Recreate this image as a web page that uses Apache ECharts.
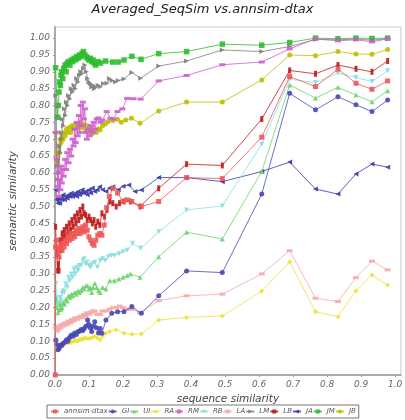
<!DOCTYPE html>
<html><head><meta charset="utf-8">
<script src="https://cdn.jsdelivr.net/npm/echarts@6/dist/echarts.min.js"></script>
<style>html,body{margin:0;padding:0;background:#fff}#c{width:405px;height:420px}</style>
</head><body><div id="c"></div>
<script>
// shared x positions of the sparse (right-hand) part
const sparseX = [0.305, 0.387, 0.492, 0.608, 0.690, 0.766, 0.832, 0.885, 0.932, 0.978];

const annsimDense = [[0.001,0.0],[0.002,0.38],[0.005,0.40],[0.008,0.36],[0.01,0.38],[0.012,0.35],[0.015,0.37],[0.018,0.39],[0.021,0.37],[0.024,0.39],[0.027,0.38],[0.03,0.40],[0.034,0.39],[0.038,0.41],[0.042,0.40],[0.046,0.42],[0.05,0.405],[0.054,0.42],[0.058,0.41],[0.062,0.43],[0.066,0.42],[0.07,0.435],[0.074,0.42],[0.078,0.43],[0.082,0.44],[0.086,0.425],[0.09,0.445],[0.095,0.43],[0.1,0.41],[0.105,0.40],[0.11,0.39],[0.115,0.385],[0.12,0.40],[0.126,0.415],[0.132,0.42],[0.138,0.415],[0.145,0.445],[0.152,0.497],[0.16,0.53],[0.17,0.554],[0.184,0.54],[0.2,0.515],[0.212,0.52],[0.226,0.515],[0.254,0.50]];
const annsimSparse = [0.515,0.586,0.583,0.706,0.886,0.856,0.908,0.866,0.848,0.873];

const giDense = [[0.003,0.104],[0.006,0.09],[0.009,0.075],[0.012,0.079],[0.015,0.085],[0.018,0.09],[0.021,0.088],[0.025,0.095],[0.03,0.098],[0.034,0.105],[0.038,0.10],[0.042,0.11],[0.046,0.115],[0.049,0.119],[0.054,0.115],[0.058,0.125],[0.063,0.12],[0.068,0.129],[0.072,0.13],[0.077,0.135],[0.082,0.132],[0.086,0.138],[0.091,0.145],[0.096,0.163],[0.1,0.15],[0.104,0.14],[0.108,0.129],[0.112,0.145],[0.117,0.158],[0.122,0.14],[0.128,0.125],[0.133,0.138],[0.138,0.124],[0.15,0.163],[0.167,0.183],[0.184,0.188],[0.203,0.188],[0.226,0.203],[0.254,0.183]];
const giSparse = [0.235,0.309,0.304,0.537,0.836,0.787,0.826,0.802,0.782,0.816];

const uiDense = [[0.003,0.228],[0.006,0.20],[0.009,0.185],[0.012,0.193],[0.015,0.21],[0.018,0.195],[0.021,0.20],[0.024,0.215],[0.028,0.21],[0.032,0.225],[0.036,0.22],[0.04,0.235],[0.044,0.23],[0.048,0.24],[0.052,0.235],[0.058,0.245],[0.063,0.24],[0.068,0.25],[0.072,0.245],[0.077,0.25],[0.082,0.26],[0.086,0.255],[0.091,0.265],[0.096,0.265],[0.1,0.255],[0.104,0.26],[0.108,0.245],[0.112,0.26],[0.117,0.272],[0.123,0.26],[0.128,0.25],[0.133,0.245],[0.14,0.26],[0.15,0.255],[0.161,0.28],[0.175,0.28],[0.188,0.285],[0.2,0.29],[0.212,0.295],[0.222,0.30],[0.25,0.29]];
const uiSparse = [0.351,0.424,0.404,0.604,0.861,0.822,0.854,0.831,0.811,0.844];

const raDense = [[0.003,0.084],[0.006,0.08],[0.009,0.085],[0.012,0.089],[0.016,0.087],[0.02,0.09],[0.025,0.092],[0.03,0.094],[0.035,0.095],[0.04,0.097],[0.045,0.096],[0.049,0.099],[0.055,0.10],[0.06,0.102],[0.065,0.10],[0.068,0.104],[0.073,0.105],[0.078,0.107],[0.082,0.106],[0.086,0.109],[0.092,0.11],[0.098,0.108],[0.105,0.109],[0.11,0.112],[0.117,0.114],[0.125,0.11],[0.133,0.104],[0.14,0.115],[0.15,0.124],[0.161,0.129],[0.18,0.134],[0.203,0.124],[0.226,0.121],[0.254,0.122]];
const raSparse = [0.163,0.171,0.175,0.249,0.336,0.188,0.173,0.250,0.297,0.267];

const rmDense = [[0.002,0.72],[0.005,0.64],[0.008,0.56],[0.01,0.60],[0.012,0.53],[0.014,0.58],[0.016,0.55],[0.018,0.62],[0.02,0.57],[0.023,0.61],[0.026,0.59],[0.03,0.64],[0.033,0.61],[0.036,0.66],[0.04,0.63],[0.044,0.67],[0.048,0.65],[0.052,0.70],[0.055,0.68],[0.058,0.73],[0.061,0.69],[0.064,0.75],[0.067,0.71],[0.07,0.77],[0.073,0.72],[0.076,0.80],[0.079,0.74],[0.082,0.81],[0.085,0.76],[0.088,0.79],[0.091,0.72],[0.094,0.70],[0.098,0.73],[0.102,0.71],[0.106,0.74],[0.11,0.72],[0.114,0.75],[0.118,0.73],[0.123,0.76],[0.128,0.763],[0.134,0.75],[0.14,0.757],[0.152,0.782],[0.163,0.762],[0.172,0.76],[0.184,0.782],[0.198,0.79],[0.212,0.821],[0.23,0.82],[0.252,0.819]];
const rmSparse = [0.873,0.889,0.921,0.929,0.968,0.998,0.992,0.995,0.989,0.998];

const rbDense = [[0.003,0.272],[0.006,0.23],[0.009,0.21],[0.012,0.213],[0.015,0.23],[0.018,0.22],[0.021,0.243],[0.024,0.25],[0.028,0.245],[0.032,0.27],[0.036,0.26],[0.04,0.29],[0.044,0.28],[0.048,0.30],[0.052,0.29],[0.056,0.315],[0.06,0.30],[0.064,0.32],[0.068,0.31],[0.072,0.325],[0.077,0.325],[0.082,0.34],[0.086,0.345],[0.09,0.33],[0.095,0.335],[0.1,0.325],[0.105,0.32],[0.11,0.33],[0.117,0.335],[0.125,0.32],[0.133,0.34],[0.14,0.345],[0.148,0.34],[0.156,0.35],[0.165,0.355],[0.175,0.355],[0.188,0.36],[0.2,0.366],[0.212,0.37],[0.228,0.391],[0.252,0.376]];
const rbSparse = [0.425,0.490,0.502,0.685,0.878,0.868,0.896,0.883,0.871,0.903];

const laDense = [[0.003,0.139],[0.006,0.13],[0.009,0.135],[0.012,0.145],[0.016,0.14],[0.02,0.15],[0.025,0.145],[0.03,0.155],[0.035,0.15],[0.04,0.16],[0.045,0.155],[0.05,0.165],[0.055,0.16],[0.06,0.17],[0.065,0.165],[0.07,0.17],[0.075,0.175],[0.08,0.17],[0.086,0.18],[0.09,0.175],[0.095,0.185],[0.1,0.18],[0.105,0.185],[0.11,0.19],[0.117,0.19],[0.125,0.18],[0.133,0.18],[0.14,0.19],[0.15,0.19],[0.16,0.195],[0.17,0.2],[0.18,0.2],[0.19,0.205],[0.2,0.2],[0.208,0.195],[0.218,0.195],[0.226,0.195],[0.25,0.185]];
const laSparse = [0.221,0.235,0.240,0.300,0.369,0.228,0.218,0.289,0.338,0.312];

const lmDense = [[0.003,0.83],[0.006,0.62],[0.008,0.58],[0.01,0.64],[0.012,0.60],[0.014,0.68],[0.016,0.66],[0.018,0.72],[0.02,0.70],[0.022,0.76],[0.025,0.74],[0.028,0.79],[0.031,0.77],[0.034,0.81],[0.037,0.80],[0.04,0.83],[0.044,0.82],[0.048,0.85],[0.052,0.84],[0.056,0.86],[0.06,0.85],[0.064,0.88],[0.068,0.87],[0.072,0.89],[0.076,0.90],[0.08,0.895],[0.084,0.91],[0.088,0.92],[0.092,0.90],[0.096,0.88],[0.1,0.87],[0.104,0.865],[0.108,0.855],[0.112,0.86],[0.116,0.85],[0.12,0.855],[0.127,0.86],[0.134,0.856],[0.143,0.865],[0.153,0.866],[0.16,0.88],[0.168,0.874],[0.178,0.87],[0.186,0.874],[0.203,0.879],[0.226,0.898],[0.252,0.881]];
const lmSparse = [0.917,0.932,0.965,0.960,0.975,0.996,0.995,0.997,0.994,0.998];

const lbDense = [[0.002,0.44],[0.005,0.36],[0.008,0.31],[0.01,0.33],[0.012,0.31],[0.015,0.40],[0.018,0.37],[0.021,0.42],[0.024,0.40],[0.027,0.43],[0.03,0.41],[0.034,0.44],[0.038,0.42],[0.042,0.45],[0.046,0.43],[0.05,0.46],[0.054,0.44],[0.058,0.47],[0.062,0.45],[0.066,0.48],[0.07,0.46],[0.074,0.49],[0.078,0.47],[0.082,0.50],[0.086,0.48],[0.09,0.475],[0.095,0.46],[0.1,0.47],[0.105,0.46],[0.11,0.45],[0.115,0.46],[0.12,0.44],[0.126,0.455],[0.132,0.445],[0.138,0.48],[0.146,0.47],[0.153,0.49],[0.161,0.515],[0.17,0.51],[0.18,0.50],[0.19,0.51],[0.203,0.515],[0.222,0.515],[0.25,0.50]];
const lbSparse = [0.554,0.626,0.622,0.760,0.904,0.894,0.920,0.909,0.900,0.932];

const jaDense = [[0.003,0.549],[0.005,0.52],[0.008,0.51],[0.011,0.525],[0.014,0.51],[0.017,0.53],[0.02,0.52],[0.024,0.535],[0.028,0.52],[0.032,0.53],[0.036,0.525],[0.04,0.535],[0.044,0.53],[0.048,0.54],[0.052,0.53],[0.056,0.535],[0.06,0.54],[0.064,0.53],[0.068,0.545],[0.072,0.535],[0.076,0.54],[0.08,0.55],[0.085,0.54],[0.09,0.545],[0.095,0.535],[0.1,0.55],[0.105,0.54],[0.11,0.555],[0.117,0.545],[0.124,0.55],[0.131,0.559],[0.14,0.55],[0.15,0.545],[0.16,0.555],[0.17,0.559],[0.186,0.55],[0.2,0.56],[0.217,0.564],[0.235,0.545],[0.254,0.549]];
const jaSparse = [0.586,0.586,0.574,0.604,0.632,0.552,0.537,0.597,0.626,0.617];

const jmDense = [[0.002,0.912],[0.008,0.765],[0.01,0.80],[0.012,0.84],[0.014,0.87],[0.016,0.86],[0.018,0.89],[0.02,0.90],[0.023,0.88],[0.026,0.91],[0.03,0.92],[0.033,0.90],[0.036,0.925],[0.04,0.93],[0.044,0.92],[0.048,0.935],[0.052,0.93],[0.056,0.94],[0.06,0.935],[0.064,0.945],[0.068,0.94],[0.072,0.95],[0.076,0.945],[0.08,0.955],[0.084,0.96],[0.088,0.95],[0.092,0.945],[0.096,0.94],[0.1,0.935],[0.104,0.94],[0.108,0.93],[0.112,0.935],[0.116,0.925],[0.12,0.92],[0.127,0.93],[0.134,0.926],[0.149,0.932],[0.17,0.929],[0.186,0.929],[0.203,0.935],[0.226,0.946],[0.253,0.937]];
const jmSparse = [0.954,0.960,0.982,0.979,0.987,1.000,0.998,1.000,0.999,1.000];

const jbDense = [[0.002,0.72],[0.005,0.66],[0.007,0.63],[0.009,0.65],[0.011,0.68],[0.013,0.66],[0.015,0.70],[0.018,0.69],[0.021,0.71],[0.024,0.70],[0.027,0.72],[0.03,0.71],[0.034,0.73],[0.038,0.72],[0.042,0.735],[0.046,0.72],[0.05,0.74],[0.055,0.73],[0.06,0.745],[0.065,0.735],[0.07,0.74],[0.075,0.75],[0.08,0.735],[0.085,0.745],[0.09,0.73],[0.095,0.74],[0.1,0.725],[0.105,0.73],[0.11,0.717],[0.116,0.725],[0.122,0.72],[0.128,0.73],[0.133,0.728],[0.14,0.74],[0.148,0.745],[0.156,0.752],[0.17,0.755],[0.184,0.759],[0.195,0.75],[0.208,0.757],[0.225,0.762],[0.25,0.747]];
const jbSparse = [0.784,0.810,0.810,0.876,0.950,0.948,0.960,0.953,0.952,0.966];

const seriesNames = ['annsim-dtax','GI','UI','RA','RM','RB','LA','LM','LB','JA','JM','JB'];

function build(dense, sparse){ return dense.concat(sparseX.map((x,i)=>[x, sparse[i]])); }

const defs = [
  {d:annsimDense, s:annsimSparse, c:'#f05656', sym:'rect', size:5, rot:0},
  {d:giDense, s:giSparse, c:'#4848b4', sym:'circle', size:5, rot:0},
  {d:uiDense, s:uiSparse, c:'#6cd46c', sym:'triangle', size:5, rot:0},
  {d:raDense, s:raSparse, c:'#ece23a', sym:'diamond', size:5, rot:0},
  {d:rmDense, s:rmSparse, c:'#d05ed0', sym:'rect', size:[6,3], rot:0},
  {d:rbDense, s:rbSparse, c:'#8adede', sym:'triangle', size:5, rot:180},
  {d:laDense, s:laSparse, c:'#f7aaaa', sym:'rect', size:[6,3], rot:0},
  {d:lmDense, s:lmSparse, c:'#808080', sym:'triangle', size:5, rot:-90},
  {d:lbDense, s:lbSparse, c:'#c01a1a', sym:'rect', size:[3,6], rot:0},
  {d:jaDense, s:jaSparse, c:'#3a3aa8', sym:'triangle', size:5, rot:90},
  {d:jmDense, s:jmSparse, c:'#2ebc2e', sym:'rect', size:5.5, rot:0},
  {d:jbDense, s:jbSparse, c:'#bfbf00', sym:'circle', size:5, rot:0}
];

const font = 'DejaVu Sans';
const chart = echarts.init(document.getElementById('c'), null, {renderer:'canvas'});
chart.setOption({
  animation:false,
  backgroundColor:'#fff',
  title:{text:'Averaged_SeqSim vs.annsim-dtax', left:'center', top:-2,
    textStyle:{fontFamily:font, fontStyle:'italic', fontWeight:'normal', fontSize:13, color:'#222'}},
  grid:{left:39, right:2, top:27, bottom:45, show:true, borderColor:'#ccc', borderWidth:1},
  xAxis:{type:'value', min:0, max:1.017, interval:0.1,
    name:'sequence similarity', nameLocation:'middle', nameGap:18,
    nameTextStyle:{fontFamily:font, fontStyle:'italic', fontSize:10.5, color:'#444'},
    axisLine:{show:true, lineStyle:{color:'#aaa', width:2}},
    axisTick:{show:true, length:2, lineStyle:{color:'#999'}},
    axisLabel:{fontFamily:font, fontStyle:'italic', fontSize:9, color:'#666', margin:5, showMaxLabel:false,
      formatter:v=>v.toFixed(1)},
    splitLine:{show:false}},
  yAxis:{type:'value', min:0, max:1.033, interval:0.05,
    name:'semantic similarity', nameLocation:'middle', nameGap:30,
    nameTextStyle:{fontFamily:font, fontStyle:'italic', fontSize:10.5, color:'#444'},
    axisLine:{show:true, lineStyle:{color:'#aaa', width:2}},
    axisTick:{show:true, length:2, lineStyle:{color:'#999'}},
    axisLabel:{fontFamily:font, fontStyle:'italic', fontSize:9, color:'#666', margin:5, showMaxLabel:false,
      formatter:v=>v.toFixed(2)},
    splitLine:{show:false}},
  legend:{bottom:2, left:47, itemWidth:8, itemHeight:5, itemGap:0,
    padding:[3,3], borderColor:'#777', borderWidth:1,
    textStyle:{fontFamily:font, fontStyle:'italic', fontSize:7, color:'#555'},
    data:seriesNames},
  series: defs.map((o,i)=>({
    name:seriesNames[i], type:'line', data:build(o.d,o.s),
    symbol:o.sym, symbolSize:o.size, symbolRotate:o.rot, showAllSymbol:true,
    z: 20 - i,
    itemStyle:{color:o.c, opacity:0.9},
    lineStyle:{color:o.c, width:1, opacity:0.8}
  }))
});
</script></body></html>
